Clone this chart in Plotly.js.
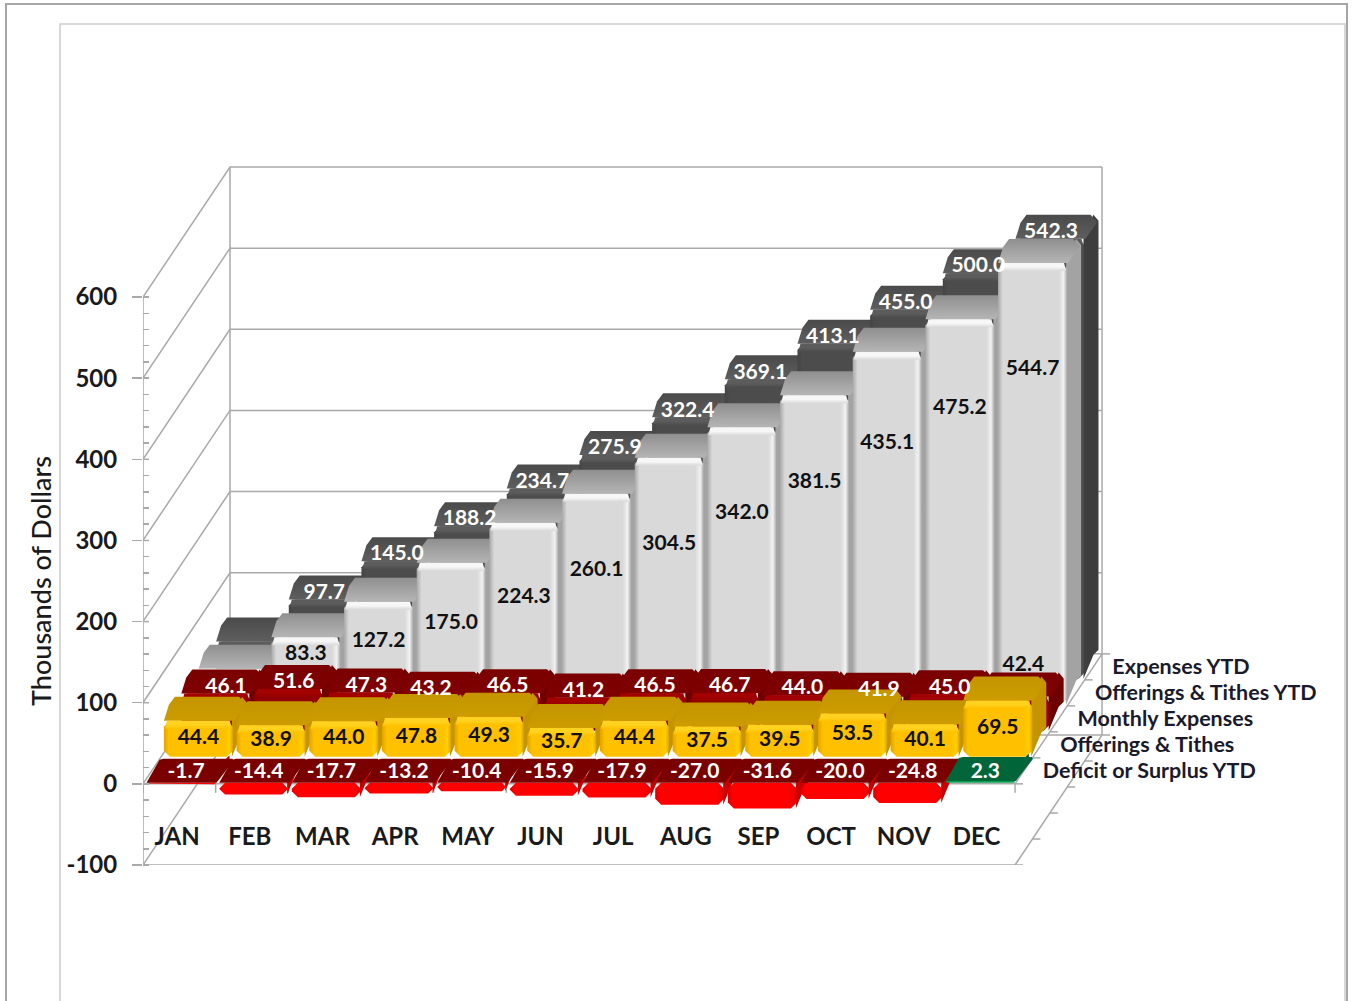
<!DOCTYPE html>
<html>
<head>
<meta charset="utf-8">
<script src="https://cdn.plot.ly/plotly-3.0.1.min.js"></script>
<style>html,body{margin:0;padding:0;background:#fff}</style>
</head>
<body>
<div id="chart" style="width:1354px;height:1001px"></div>
<script>
const months = ["JAN","FEB","MAR","APR","MAY","JUN","JUL","AUG","SEP","OCT","NOV","DEC"];
const deficitYTD = [-1.7,-14.4,-17.7,-13.2,-10.4,-15.9,-17.9,-27.0,-31.6,-20.0,-24.8,2.3];
const offerings = [44.4,38.9,44.0,47.8,49.3,35.7,44.4,37.5,39.5,53.5,40.1,69.5];
const expenses = [46.1,51.6,47.3,43.2,46.5,41.2,46.5,46.7,44.0,41.9,45.0,42.4];
const offeringsYTD = [44.4,83.3,127.2,175.0,224.3,260.1,304.5,342.0,381.5,435.1,475.2,544.7];
const expensesYTD = [46.1,97.7,145.0,188.2,234.7,275.9,322.4,369.1,413.1,455.0,500.0,542.3];
const seriesNames = ["Deficit or Surplus YTD","Offerings & Tithes","Monthly Expenses","Offerings & Tithes YTD","Expenses YTD"];
const yTicks = [-100,0,100,200,300,400,500,600];
const yTitle = "Thousands of Dollars";

const FONT = "Lato, 'Open Sans', sans-serif";
const PX_X = 72.67, PX_Y = 0.8114;            // pixels per category, pixels per value unit
const L_PAD = 143, R_EDGE = 1340, BOT = 865, TOP = 30;
const xMin = -0.5, xMax = xMin + (R_EDGE - L_PAD) / PX_X;
const yMin = -100, yMax = yMin + (BOT - TOP) / PX_Y;
const N = months.length;
const WALL_DX = 87, WALL_DY = 130;
const ROW_DX = WALL_DX / 5, ROW_DY = WALL_DY / 5;
const GRID = "#a9a9a9";

const traces = [];
const X = (i, px) => i - 0.5 + px / PX_X;
const Y = (v, px) => v + px / PX_Y;

function line(xs, ys, color, width) {
  traces.push({type:"scatter", mode:"lines", x:xs, y:ys, hoverinfo:"skip", showlegend:false,
    cliponaxis:false, line:{color:color || GRID, width:width || 1.5}});
}

/* walls */
const backX = X(0, WALL_DX), backRight = X(N, WALL_DX), frontRight = X(N, 0), frontLeft = X(0, 0);
yTicks.forEach(v => {
  line([frontLeft, backX, backRight], [v, Y(v, WALL_DY), Y(v, WALL_DY)]);
});
line([backX, backX], [Y(-100, WALL_DY), Y(600, WALL_DY)]);
line([backRight, backRight], [Y(-100, WALL_DY), Y(600, WALL_DY)]);
line([frontLeft, frontRight, backRight], [-100, -100, Y(-100, WALL_DY)]);
line([frontLeft, frontRight, backRight], [0, 0, Y(0, WALL_DY)]);
for (let i = 0; i <= N; i++) line([X(i, 0), X(i, 0)], [0, Y(0, -9)]);
for (let k = 0; k <= 5; k++) {
  line([X(N, ROW_DX * k), X(N, ROW_DX * k + 8)], [Y(0, ROW_DY * k), Y(0, ROW_DY * k)]);
  line([X(N, ROW_DX * k), X(N, ROW_DX * k + 8)], [Y(-100, ROW_DY * k), Y(-100, ROW_DY * k)]);
}
// the value axis itself, drawn on its own axis so its ticks and title belong to -100..600
traces.push({type:"scatter", mode:"lines", x:[frontLeft, frontLeft], y:[-100, 600], yaxis:"y2", hoverinfo:"skip",
  showlegend:false, cliponaxis:false, line:{color:GRID, width:1.5}});
yTicks.forEach(v => traces.push({type:"scatter", mode:"lines", x:[X(0, 0), X(0, 6)], y:[v, v], yaxis:"y2", hoverinfo:"skip",
  showlegend:false, cliponaxis:false, line:{color:GRID, width:1.5}}));

/* one polygon, given as pixel offsets from a value anchor */
function poly(i, pts, color, grad) {
  const xs = pts.map(p => X(i, p[0])), ys = pts.map(p => Y(p[2], p[1]));
  xs.push(xs[0]); ys.push(ys[0]);
  const t = {type:"scatter", mode:"lines", x:xs, y:ys, fill:"toself", hoverinfo:"skip", showlegend:false,
    cliponaxis:false, line:{width:0, color:color}, fillcolor:color};
  if (grad) t.fillgradient = grad;
  traces.push(t);
}

const BW = 69, DX = 14, DY = 24;
function bar(i, k, val, c) {
  const top = Math.max(0, val), base = Math.min(0, val);
  const L = 3.5 + ROW_DX * k, B = ROW_DY * k + 1;
  const R = L + BW;
  const h = (top - base) * PX_Y;
  // right side
  poly(i, [[R-1,B,top],[R+DX-5,B+DY,top],[R+DX,B+DY-6,top],[R+DX,B+DY+5,base],[R+DX-5,B+DY,base],[R-1,B,base]], c.side);
  // front
  const ch = Math.min(6, h / 2);
  poly(i, [[L,B-ch,top],[L+ch,B,top],[R-ch,B,top],[R,B-ch,top],[R,B+ch,base],[R-ch,B,base],[L+ch,B,base],[L,B+ch,base]],
    c.front, h > 3 ? {type:"horizontal", colorscale:[[0,c.edgeL],[0.07,c.front],[0.88,c.front],[0.95,c.edgeR],[1,c.edgeL]]} : null);
  // top; the flat front row has almost square corners so its tops read as one band
  const tl = k === 0 ? [[L+DX-1,B+DY-1,top],[L+DX+3,B+DY,top]] : [[L+DX-9,B+DY-8,top],[L+DX-3,B+DY,top]];
  const tr = k === 0 ? [[R+DX+3,B+DY,top],[R+DX+4,B+DY-2,top]] : [[R+DX-8,B+DY,top],[R+DX-1,B+DY-7,top]];
  poly(i, [[L,B,top], ...tl, ...tr, [R+1,B,top]], c.top,
    {type:"vertical", colorscale:[[0,c.topFront],[1,c.top]]});
  // bevel strip along the front top edge
  if (h > 10 && k > 0) {
    const s = 8;
    poly(i, [[L+3,B,top],[R-3,B,top],[R-1,B-s,top],[L+1,B-s,top]], c.strip,
      {type:"vertical", colorscale:[[0,c.front],[0.5,c.strip],[1,c.strip]]});
  }
}

const styles = {
  4:{front:"#4c4c4c",top:"#4a4a4a",topFront:"#5e5e5e",side:"#3d3d3d",edgeL:"#444444",edgeR:"#555555",strip:"#5c5c5c"},
  3:{front:"#d9d9d9",top:"#8f8f8f",topFront:"#b5b5b5",side:"#a3a3a3",edgeL:"#a8a8a8",edgeR:"#f2f2f2",strip:"#f7f7f7"},
  2:{front:"#930000",top:"#7a0000",topFront:"#800000",side:"#6e0000",edgeL:"#850000",edgeR:"#a00000",strip:"#a30000"},
  1:{front:"#ffc000",top:"#c49500",topFront:"#cc9c00",side:"#c49500",edgeL:"#e0a400",edgeR:"#ffd000",strip:"#ffd21f"},
  0:{front:"#ff0000",top:"#7a0000",topFront:"#7a0000",side:"#c80000",edgeL:"#d80000",edgeR:"#f00000",strip:"#ff2020"}
};
const surplusStyle = {front:"#00a050",top:"#00663a",topFront:"#00663a",side:"#004d2c",edgeL:"#008040",edgeR:"#00a050",strip:"#00a050"};

const rows = [deficitYTD, offerings, expenses, offeringsYTD, expensesYTD];
for (let k = 4; k >= 0; k--) {
  rows[k].forEach((v, i) => bar(i, k, v, (k === 0 && v > 0) ? surplusStyle : styles[k]));
}

/* data labels */
function labels(xs, ys, txt, color) {
  traces.push({type:"scatter", mode:"text", x:xs, y:ys, text:txt, textposition:"middle center",
    cliponaxis:false, hoverinfo:"skip", showlegend:false,
    textfont:{family:FONT, size:21, weight:700, color:color}});
}
const fmt = v => v.toFixed(1);
const idx = months.map((m, i) => i);
// Label nudges in pixels, the way the labels sit on the sheet (layout, not data)
const expenseLabelNudge = [5,0,0,-8,-4,-1,-2,0,0,4,2];
const ytdLabelLift = [0,50,63,81,107,134,160,191,222,261,296,335];
// Deficit row: on the top face
labels(idx.map(i => X(i, 36 + 7)), idx.map(i => Y(0, 11)), deficitYTD.map(fmt), "#ffffff");
// Offerings row: middle of the front face
labels(idx.map(i => X(i, 3.5 + ROW_DX + BW / 2)), idx.map(i => Y(offerings[i] / 2, ROW_DY + 1)), offerings.map(fmt), "#111111");
// Monthly expenses: on the top face; December's sits above, on the tall grey bar
const expIdx = idx.slice(0, 11);
labels(expIdx.map(i => X(i, 36 + 42 + expenseLabelNudge[i])), expIdx.map(i => Y(expenses[i], ROW_DY * 2 + 7)), expIdx.map(i => fmt(expenses[i])), "#ffffff");
labels([X(11, 36 + 45)], [Y(expenses[11], ROW_DY * 2 + 32)], [fmt(expenses[11])], "#111111");
// Offerings YTD: upper part of the front face, January hidden
const ytdIdx = idx.slice(1);
labels(ytdIdx.map(i => X(i, 3.5 + ROW_DX * 3 + BW / 2)),
  ytdIdx.map(i => Y(0, ytdLabelLift[i] + ROW_DY * 3 + 1)),
  ytdIdx.map(i => fmt(offeringsYTD[i])), "#111111");
// Expenses YTD: on the top face, January hidden
labels(ytdIdx.map(i => X(i, 3.5 + ROW_DX * 4 + BW / 2 + 1)),
  ytdIdx.map(i => Y(expensesYTD[i], ROW_DY * 4 + 7)),
  ytdIdx.map(i => fmt(expensesYTD[i])), "#ffffff");

/* depth axis names */
traces.push({type:"scatter", mode:"text", cliponaxis:false, hoverinfo:"skip", showlegend:false,
  x:seriesNames.map((s, k) => X(N, ROW_DX * (k + 0.5) + 19)),
  y:seriesNames.map((s, k) => Y(0, ROW_DY * (k + 0.5) - 2)),
  text:seriesNames, textposition:"middle right",
  textfont:{family:FONT, size:21.5, weight:700, color:"#1a1a2a"}});

const pw = R_EDGE - L_PAD, ph = BOT - TOP;
const px = v => (v - L_PAD) / pw, py = v => (BOT - v) / ph;
const minorVals = [];
for (let v = -100; v <= 600; v += 20) minorVals.push(v);

Plotly.newPlot("chart", traces, {
  width:1354, height:1001, showlegend:false,
  paper_bgcolor:"#ffffff", plot_bgcolor:"rgba(0,0,0,0)",
  margin:{l:L_PAD, r:1354 - R_EDGE, t:TOP, b:1001 - BOT, pad:0},
  xaxis:{range:[xMin, xMax], anchor:"free", position:(BOT - 820) / ph, showgrid:false, zeroline:false, showline:false,
    ticks:"", tickmode:"array", tickvals:idx.map(i => i - 0.03), ticktext:months,
    tickfont:{family:FONT, size:24, weight:700, color:"#1a1a1a"}},
  yaxis:{range:[yMin, yMax], visible:false, showgrid:false, zeroline:false},
  yaxis2:{range:[-100, 600], domain:[0, 700 * PX_Y / ph], anchor:"x", side:"left", showgrid:false, zeroline:false, showline:false,
    tickmode:"array", tickvals:yTicks, ticktext:yTicks.map(String),
    ticks:"outside", ticklen:10, tickwidth:1.5, tickcolor:GRID, ticklabelstandoff:10,
    minor:{ticks:"inside", ticklen:6, tickwidth:1.5, tickcolor:GRID, tickmode:"array", tickvals:minorVals, showgrid:false},
    tickfont:{family:FONT, size:24, weight:700, color:"#1a1a1a"},
    title:{text:yTitle, standoff:7, font:{family:FONT, size:27, weight:500, color:"#1a1a1a"}},
    automargin:false},
  shapes:[
    {type:"rect", xref:"paper", yref:"paper", x0:px(6), x1:px(1347), y0:py(1100), y1:py(4), line:{color:"#a6a6a6", width:2}, layer:"below"},
    {type:"rect", xref:"paper", yref:"paper", x0:px(60), x1:px(1345), y0:py(1100), y1:py(24), line:{color:"#cccccc", width:1.5}, layer:"below"}
  ]
}, {displayModeBar:false, staticPlot:true});
</script>
</body>
</html>
